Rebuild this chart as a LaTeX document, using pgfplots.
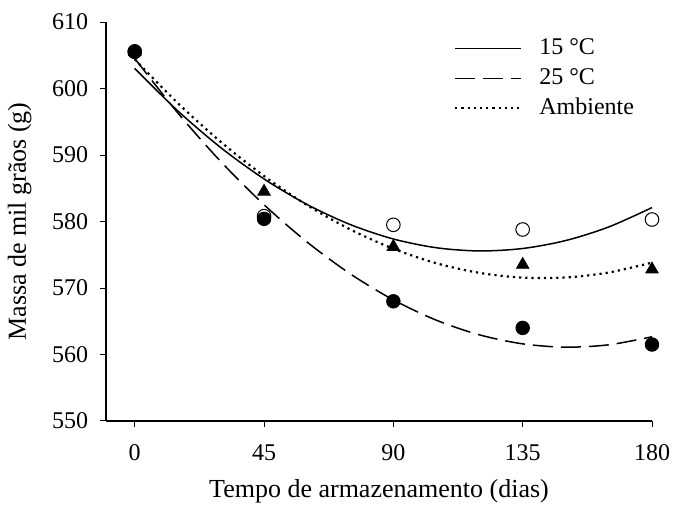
\documentclass[border=0pt]{standalone}
\usepackage{fontspec}
\setmainfont{Liberation Serif}
\usepackage{pgfplots}
\pgfplotsset{compat=1.18}
\usepackage{pgfplotstable}

% Observed thousand-grain mass (g) by storage time (days)
\pgfplotstableread{
dias m15 m25 amb
0 605.5 605.6 605.5
45 580.8 580.4 584.5
90 579.5 568.0 576.2
135 578.8 564.0 573.5
180 580.3 561.5 572.8
}\obs

% Quadratic regression curves, tabulated every 15 days
\pgfplotstableread{
dias f15 f25 famb
0 603.01 604.51 604.38
15 596.63 596.32 597.80
30 591.09 588.99 591.95
45 586.40 582.52 586.84
60 582.55 576.90 582.46
75 579.54 572.13 578.81
90 577.37 568.21 575.90
105 576.05 565.15 573.72
120 575.57 562.95 572.27
135 575.94 561.60 571.56
150 577.14 561.10 571.58
165 579.19 561.46 572.33
180 582.09 562.67 573.82
}\fit

\begin{document}
\fontsize{12}{14.4}\selectfont
\begin{tikzpicture}
\path[use as bounding box] (0,0) rectangle (337.5pt,254.5pt);
\begin{axis}[
  at={(53pt,44pt)}, anchor=south west,
  scale only axis, width=273pt, height=199.5pt,
  xmin=-10, xmax=180, ymin=550, ymax=610,
  axis x line*=bottom, axis y line*=left,
  xtick={0,45,90,135,180}, ytick={550,560,...,610},
  tick align=outside, major tick length=2.8pt,
  tick style={black, line width=0.5pt},
  axis line style={black, line width=0.6pt},
  /pgf/number format/assume math mode=true,
  xticklabel style={yshift=-5pt},
  yticklabel style={xshift=-2pt},
  xlabel={Tempo de armazenamento (dias)},
  ylabel={Massa de mil grãos (g)},
  xlabel style={at={(axis description cs:0.5,-0.175)}, anchor=center, font=\fontsize{13}{15}\selectfont},
  ylabel style={at={(axis description cs:-0.158,0.5)}, anchor=center, font=\fontsize{13}{15}\selectfont},
  legend style={at={(axis description cs:0.637,0.965)}, anchor=north west,
    draw=none, fill=none, inner sep=0pt, row sep=3pt,
    nodes={inner sep=0pt, text height=9pt, text depth=3pt}},
  legend cell align=left,
  legend image code/.code={\draw[#1] (0pt,0pt) -- (33pt,0pt);},
]
\addplot[black, line width=0.75pt, smooth] table[x=dias, y=f15] {\fit};
\addlegendentry{\hspace{8.5pt}15 °C}
\addplot[black, line width=0.75pt, smooth, dash pattern=on 10pt off 4pt] table[x=dias, y=f25] {\fit};
\addlegendentry{\hspace{8.5pt}25 °C}
\addplot[black, line width=1.1pt, smooth, dash pattern=on 1.1pt off 2pt] table[x=dias, y=famb] {\fit};
\addlegendentry{\hspace{8.5pt}Ambiente}

\addplot[only marks, mark=o, mark size=3.4pt, mark options={fill=white, draw=black, line width=0.5pt}, forget plot] table[x=dias, y=m15] {\obs};
\addplot[only marks, mark=triangle*, mark size=3.6pt, mark options={fill=black, draw=black}, forget plot] table[x=dias, y=amb] {\obs};
\addplot[only marks, mark=*, mark size=3.4pt, mark options={fill=black, draw=black}, forget plot] table[x=dias, y=m25] {\obs};
\end{axis}
\end{tikzpicture}
\end{document}
